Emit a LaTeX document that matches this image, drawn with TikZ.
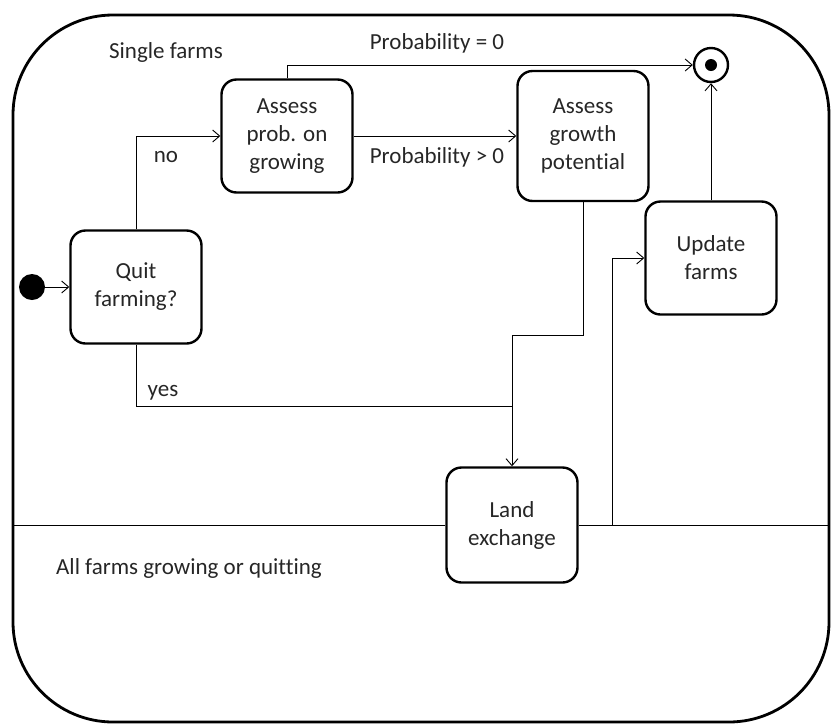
\documentclass[tikz,border=0pt]{standalone}
\usepackage{fontspec}
\setmainfont[Ligatures={NoCommon,NoContextual,NoRequired}]{Carlito}
\usepackage{tikz}
\usetikzlibrary{positioning,arrows.meta}

\begin{document}
\begin{tikzpicture}[x=1pt,y=-1pt,
    farmbox/.style={draw,line width=2.4pt,rounded corners=15pt,minimum width=131pt,
        minimum height=113pt,align=center,text=black!85,font=\fontsize{23}{28}\selectfont},
    flow/.style={line width=0.9pt,-{Straight Barb[length=7pt,width=12pt]}},
    lbl/.style={text=black!85,font=\fontsize{23}{28}\selectfont}]
    \useasboundingbox (0,0) rectangle (831,724);
    % outer frame
    \draw[line width=2.8pt,rounded corners=100pt] (13,15) rectangle (829,722);
    % states
    \node[farmbox] (quit) at (136,287) {Quit\\farming?};
    \node[farmbox] (prob) at (287,136) {Assess\\prob. on\\growing};
    \node[farmbox,minimum height=130pt] (growth) at (583,136) {Assess\\growth\\potential};
    \node[farmbox] (update) at (711,258) {Update\\farms};
    \node[farmbox,minimum height=115pt] (land) at (512,525) {Land\\exchange};
    % start and end
    \node[circle,fill,inner sep=0pt,minimum size=26pt] (start) at (32,287) {};
    \node[circle,draw,line width=2.4pt,minimum size=34pt] (end) at (711,65) {};
    \node[circle,fill,inner sep=0pt,minimum size=12pt] (dot) at (end) {};
    % bends
    \coordinate (turn) at (583,335);
    \coordinate (merge) at (512,406);
    \coordinate (rise) at (612,525);
    % transitions
    \draw[flow] (start) -- (quit);
    \draw[flow] (quit.north) |- (prob.west);
    \draw[flow] (prob.north) |- (end.west);
    \draw[flow] (prob) -- (growth);
    \draw[flow] (growth.south) -- (turn) -| (land.north);
    \draw[line width=0.9pt] (quit.south) |- (merge);
    \draw[flow] (land.east) -- (rise) |- (update.west);
    \draw[flow] (update) -- (end);
    % swimlane divider
    \draw[line width=0.9pt] (13,525) -- (land.west);
    \draw[line width=0.9pt] (rise) -- (829,525);
    % labels
    \node[lbl] (single) at (166,52) {Single farms};
    \node[lbl] (pzero) at (437,43) {Probability = 0};
    \node[lbl] (ppos) at (437,157) {Probability > 0};
    \node[lbl] (no) at (166,157) {no};
    \node[lbl] (yes) at (163,393) {yes};
    \node[lbl] (all) at (189,568) {All farms growing or quitting};
\end{tikzpicture}
\end{document}
